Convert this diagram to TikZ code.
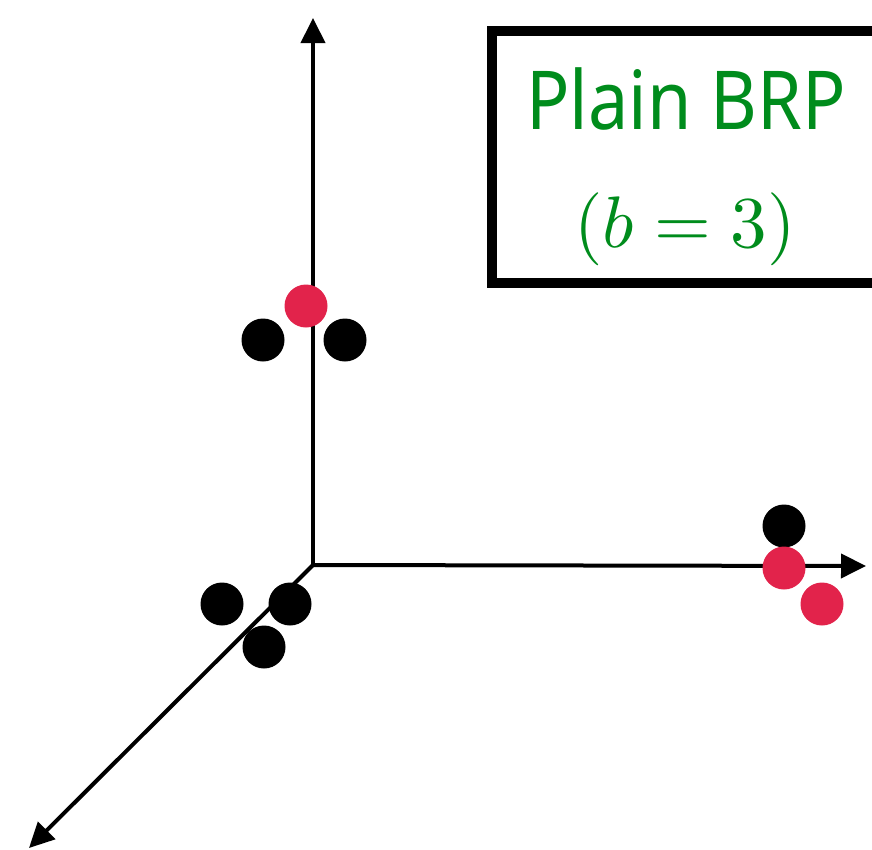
\documentclass[tikz,border=0pt]{standalone}
\usepackage{fontspec}
\usepackage{graphicx}
\usetikzlibrary{arrows.meta}
\newfontfamily\labelfont{Noto Sans}
\definecolor{dotred}{RGB}{226,35,75}
\definecolor{labelgreen}{RGB}{0,140,28}
\begin{document}
\begin{tikzpicture}[x=1pt,y=-1pt,
  axis/.style={line width=4pt,-{Triangle[length=25pt,width=24pt]}},
  dot/.style={circle,inner sep=0pt,minimum size=43pt,draw=none},
  blackdot/.style={dot,fill=black},
  reddot/.style={dot,fill=dotred},
  lbl/.style={text=labelgreen,inner sep=0pt,anchor=base}]
\useasboundingbox (0,0) rectangle (872,849);
\clip (0,0) rectangle (872,849);
\coordinate (O) at (313,565);
\coordinate (Ytip) at (313,18);
\coordinate (Xtip) at (866,566);
\coordinate (Ztip) at (29,848);
\draw[axis] (O) -- (Ytip);
\draw[axis] (O) -- (Xtip);
\draw[axis] (O) -- (Ztip);
% vertical axis cluster
\node[blackdot] (v1) at (263,340) {};
\node[blackdot] (v2) at (345,340) {};
\node[reddot]   (v3) at (306,306) {};
% horizontal axis cluster
\node[blackdot] (h1) at (784,526) {};
\node[reddot]   (h2) at (784,568) {};
\node[reddot]   (h3) at (822,604) {};
% diagonal axis cluster
\node[blackdot] (d1) at (222,604) {};
\node[blackdot] (d2) at (290,604) {};
\node[blackdot] (d3) at (264,647) {};
% label box
\draw[line width=10pt] (492,31) rectangle (920,283);
\node[lbl] (t1) at (686,129) {\scalebox{1}[1.13]{\fontsize{72}{80}\selectfont\labelfont Plain BRP}};
\node[lbl] (t2) at (685,247) {\scalebox{7.3}{$(b=3)$}};
\end{tikzpicture}
\end{document}
